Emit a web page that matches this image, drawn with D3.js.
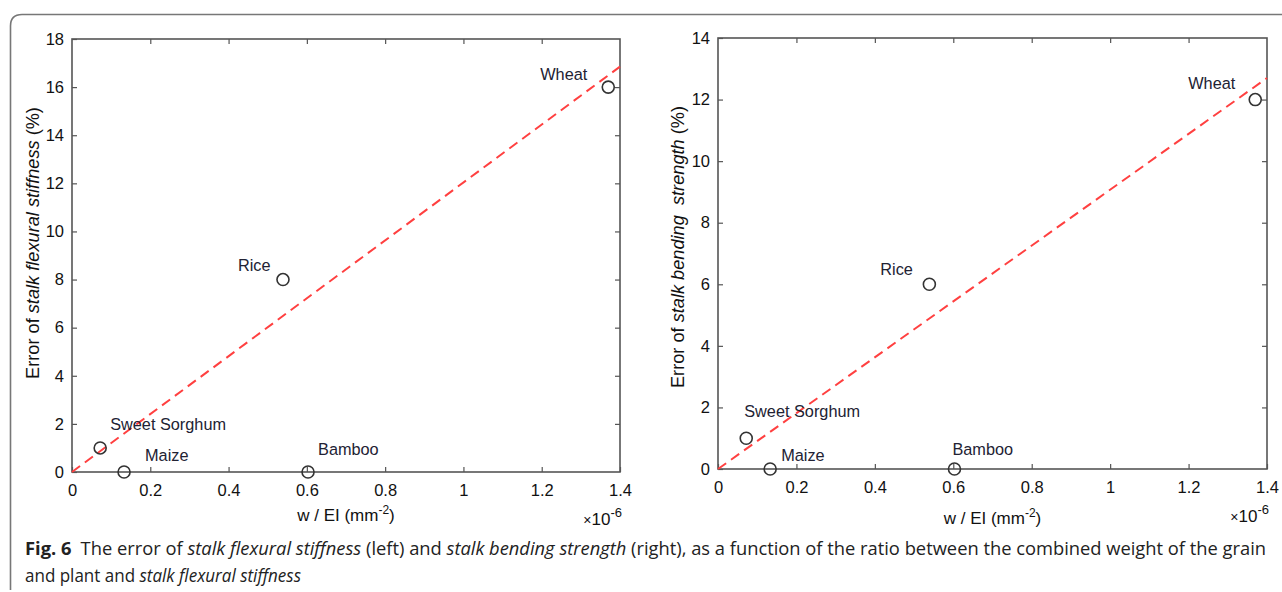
<!DOCTYPE html>
<html><head><meta charset="utf-8">
<script src="https://cdn.jsdelivr.net/npm/d3@7"></script>
<style>html,body{margin:0;padding:0;background:#fff;}svg{display:block;}</style>
</head><body>
<svg id="c" width="1282" height="592"></svg>
<script>
// ---- data ----
const crops = ["Sweet Sorghum", "Maize", "Rice", "Bamboo", "Wheat"];
const wEI = [0.072, 0.133, 0.539, 0.603, 1.37];           // ×1e-6 mm^-2
const errStiffness = [1, 0, 8, 0, 16];                      // %
const errStrength = [1, 0, 6, 0, 12];                       // %
const fitStiffness = [[0, 0], [1.4, 16.85]];
const fitStrength = [[0, 0], [1.4, 12.7]];
const xTicks = [0, 0.2, 0.4, 0.6, 0.8, 1, 1.2, 1.4];
const yTicksLeft = [0, 2, 4, 6, 8, 10, 12, 14, 16, 18];
const yTicksRight = [0, 2, 4, 6, 8, 10, 12, 14];
// label offsets (dx, dy) relative to point, in px
const labelOffLeft = [[10, -18], [21, -11], [-45, -9], [10, -17], [-68, -7]];
const labelOffRight = [[-2, -21], [11, -8], [-49, -9], [-2, -14], [-67, -11]];

const svg = d3.select("#c");
const FONT = "Liberation Sans, Arial, sans-serif";

// frame
svg.append("path")
  .attr("d", "M 10.5 590 L 10.5 26 Q 10.5 14.5 22 14.5 L 1290 14.5")
  .attr("fill", "none").attr("stroke", "#777").attr("stroke-width", 1.6);

function panel(opts) {
  const {x0, x1, y0, y1, yMax, yTicks, ys, offs, fit, yLabelParts, ylx, ylCy, xlabY, x10Y} = opts;
  const x = d3.scaleLinear().domain([0, 1.4]).range([x0, x1]);
  const y = d3.scaleLinear().domain([0, yMax]).range([y1, y0]);
  const g = svg.append("g");
  const axisColor = "#555";

  g.append("rect").attr("x", x0).attr("y", y0).attr("width", x1 - x0).attr("height", y1 - y0)
    .attr("fill", "none").attr("stroke", axisColor).attr("stroke-width", 1.6);

  const styleAxis = sel => {
    sel.attr("font-size", null).attr("font-family", null);
    sel.select(".domain").remove();
    sel.selectAll(".tick line").attr("stroke", axisColor).attr("stroke-width", 1.2);
    sel.selectAll(".tick text").attr("fill", "#111").attr("font-family", FONT).attr("font-size", 16.5);
  };
  g.append("g").attr("transform", `translate(0,${y1})`)
    .call(d3.axisBottom(x).tickValues(xTicks).tickFormat(d3.format("")).tickSizeInner(-5).tickPadding(12))
    .call(styleAxis);
  g.append("g").attr("transform", `translate(0,${y0})`)
    .call(d3.axisTop(x).tickValues(xTicks.slice(1, -1)).tickFormat("").tickSizeInner(-5))
    .call(styleAxis);
  g.append("g").attr("transform", `translate(${x0},0)`)
    .call(d3.axisLeft(y).tickValues(yTicks).tickSizeInner(-5).tickPadding(8))
    .call(styleAxis);
  g.append("g").attr("transform", `translate(${x1},0)`)
    .call(d3.axisRight(y).tickValues(yTicks.slice(1, -1)).tickFormat("").tickSizeInner(-5))
    .call(styleAxis);

  g.append("path").datum(fit)
    .attr("d", d3.line().x(d => x(d[0])).y(d => y(d[1])))
    .attr("fill", "none").attr("stroke", "#ff4040").attr("stroke-width", 2)
    .attr("stroke-dasharray", "10,6");

  g.selectAll("circle.pt").data(crops).join("circle").attr("class", "pt")
    .attr("cx", (d, i) => x(wEI[i])).attr("cy", (d, i) => y(ys[i])).attr("r", 6)
    .attr("fill", "none").attr("stroke", "#333").attr("stroke-width", 1.6);

  g.selectAll("text.lab").data(crops).join("text").attr("class", "lab")
    .attr("x", (d, i) => x(wEI[i]) + offs[i][0]).attr("y", (d, i) => y(ys[i]) + offs[i][1])
    .attr("font-family", FONT).attr("font-size", 16.3).attr("fill", "#223").text(d => d);

  const xl = g.append("text").attr("x", (x0 + x1) / 2).attr("y", xlabY).attr("text-anchor", "middle")
    .attr("font-family", FONT).attr("font-size", 17).attr("fill", "#111");
  xl.append("tspan").text("w / EI (mm");
  xl.append("tspan").attr("dy", -7).attr("font-size", 12).text("-2");
  xl.append("tspan").attr("dy", 7).text(")");

  const xm = g.append("text").attr("x", x1 + 2).attr("y", x10Y).attr("text-anchor", "end")
    .attr("font-family", FONT).attr("font-size", 17).attr("fill", "#111");
  xm.append("tspan").attr("font-size", 14).text("\u00d7");
  xm.append("tspan").text("10");
  xm.append("tspan").attr("dy", -8).attr("font-size", 13).text("-6");

  const yl = g.append("text").attr("transform", `translate(${ylx},${ylCy}) rotate(-90)`)
    .attr("text-anchor", "middle").attr("font-family", FONT).attr("font-size", 18.2).attr("fill", "#111");
  yLabelParts.forEach(p => yl.append("tspan").attr("font-style", p[1] ? "italic" : "normal").text(p[0]));
}

panel({x0: 72, x1: 620, y0: 39, y1: 472, yMax: 18, yTicks: yTicksLeft, ys: errStiffness,
  offs: labelOffLeft, fit: fitStiffness, ylx: 39, ylCy: 243, xlabY: 521, x10Y: 525,
  yLabelParts: [["Error of ", false], ["stalk flexural stiffness", true], [" (%)", false]]});
panel({x0: 718, x1: 1267, y0: 38, y1: 469, yMax: 14, yTicks: yTicksRight, ys: errStrength,
  offs: labelOffRight, fit: fitStrength, ylx: 684, ylCy: 247, xlabY: 524, x10Y: 522,
  yLabelParts: [["Error of ", false], ["stalk bending\u00a0 strength", true], [" (%)", false]]});

// caption
const CF = "Open Sans, Noto Sans, sans-serif";
const c1 = svg.append("text").attr("x", 25).attr("y", 555).attr("font-family", CF).attr("font-size", 17.5)
  .attr("fill", "#222").attr("textLength", 1241).attr("lengthAdjust", "spacingAndGlyphs");
c1.append("tspan").attr("font-weight", "bold").text("Fig. 6");
c1.append("tspan").text("\u2002The error of ");
c1.append("tspan").attr("font-style", "italic").text("stalk flexural stiffness");
c1.append("tspan").text(" (left) and ");
c1.append("tspan").attr("font-style", "italic").text("stalk bending strength");
c1.append("tspan").text(" (right), as a function of the ratio between the combined weight of the grain");
const c2 = svg.append("text").attr("x", 25).attr("y", 582).attr("font-family", CF).attr("font-size", 17.5)
  .attr("fill", "#222").attr("textLength", 276).attr("lengthAdjust", "spacingAndGlyphs");
c2.append("tspan").text("and plant and ");
c2.append("tspan").attr("font-style", "italic").text("stalk flexural stiffness");
</script>
</body></html>
